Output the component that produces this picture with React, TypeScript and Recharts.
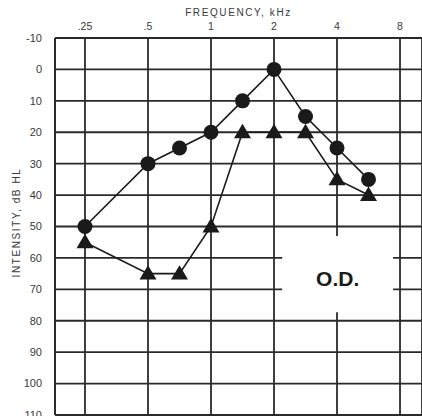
import React from 'react';
import { LineChart, Line, XAxis, YAxis, CartesianGrid, ReferenceArea, Label } from 'recharts';

// Tested frequencies (kHz) and their audiogram column positions (octave index, half-octaves in between)
const testFreqs = [0.25, 0.5, 0.75, 1, 1.5, 2, 3, 4, 6];
const columnPos = [0, 1, 1.5, 2, 2.5, 3, 3.5, 4, 4.5];
// Thresholds in dB HL
const circleThresholds = [50, 30, 25, 20, 10, 0, 15, 25, 35];
const triangleThresholds = [55, 65, 65, 50, 20, 20, 20, 35, 40];
// Axis ticks
const freqTickPos = [0, 1, 2, 3, 4, 5];
const freqTickLabels = ['.25', '.5', '1', '2', '4', '8'];
const dbTicks = [-10, 0, 10, 20, 30, 40, 50, 60, 70, 80, 90, 100, 110];

const data = testFreqs.map((f, i) => ({
  freq: f,
  pos: columnPos[i],
  circle: circleThresholds[i],
  triangle: triangleThresholds[i],
}));

const INK = '#1a1a1a';
const GRID = '#2a2a2a';
const TXT = '#3a3a3a';

const CircleDot = (props: any) => {
  const { cx, cy, index } = props;
  if (cx == null || cy == null) return <g key={`c${index}`} />;
  return <circle key={`c${index}`} cx={cx} cy={cy} r={7.5} fill={INK} stroke="none" />;
};

const TriangleDot = (props: any) => {
  const { cx, cy, index } = props;
  if (cx == null || cy == null) return <g key={`t${index}`} />;
  const s = 8.5;
  const pts = `${cx},${cy - s} ${cx - s},${cy + s * 0.7} ${cx + s},${cy + s * 0.7}`;
  return <polygon key={`t${index}`} points={pts} fill={INK} stroke="none" />;
};

export default function App() {
  return (
    <div style={{ position: 'fixed', left: 0, top: 0, width: 422, height: 416, overflow: 'hidden', background: '#fff' }}>
      <LineChart
        width={422}
        height={432}
        data={data}
        margin={{ top: 18, right: 0, bottom: 17, left: 0 }}
        style={{ fontFamily: 'Liberation Sans, Arial, sans-serif' }}
      >
        <CartesianGrid stroke={GRID} strokeWidth={1.8} horizontal vertical />
        <XAxis
          xAxisId={0}
          dataKey="pos"
          type="number"
          orientation="top"
          domain={[-0.476, 5.349]}
          allowDataOverflow
          ticks={freqTickPos}
          tickFormatter={(v: number) => freqTickLabels[freqTickPos.indexOf(v)] ?? ''}
          tickLine={false}
          axisLine={{ stroke: GRID, strokeWidth: 1.8 }}
          height={20}
          tick={{ fontSize: 10.5, fill: TXT }}
          tickMargin={2}
        >
          <Label value="FREQUENCY, kHz" position="top" offset={0} dy={-2} style={{ fontSize: 10, fill: TXT, letterSpacing: 1.6 }} />
        </XAxis>
        <YAxis
          yAxisId={0}
          type="number"
          domain={[-10, 110]}
          reversed
          allowDataOverflow
          ticks={dbTicks}
          tickFormatter={(v: number) => (v < 0 ? '-' + Math.abs(v) : String(v))}
          tickLine={false}
          axisLine={{ stroke: GRID, strokeWidth: 1.8 }}
          width={55}
          tick={{ fontSize: 11, fill: TXT }}
          tickMargin={7}
        >
          <Label
            value="INTENSITY, dB HL"
            angle={-90}
            position="insideLeft"
            offset={16}
            dy={-4}
            style={{ fontSize: 10, fill: TXT, letterSpacing: 1.6, textAnchor: 'middle' }}
          />
        </YAxis>
        <ReferenceArea x1={3.13} x2={4.89} y1={53} y2={77.3} fill="#fff" fillOpacity={1} stroke="none" ifOverflow="hidden">
          <Label value="O.D." position="center" dy={4} style={{ fontSize: 21, fontWeight: 'bold', fill: INK }} />
        </ReferenceArea>
        <Line
          dataKey="circle"
          type="linear"
          stroke={INK}
          strokeWidth={1.6}
          dot={CircleDot}
          activeDot={false}
          isAnimationActive={false}
        />
        <Line
          dataKey="triangle"
          type="linear"
          stroke={INK}
          strokeWidth={1.6}
          dot={TriangleDot}
          activeDot={false}
          isAnimationActive={false}
        />
      </LineChart>
    </div>
  );
}
